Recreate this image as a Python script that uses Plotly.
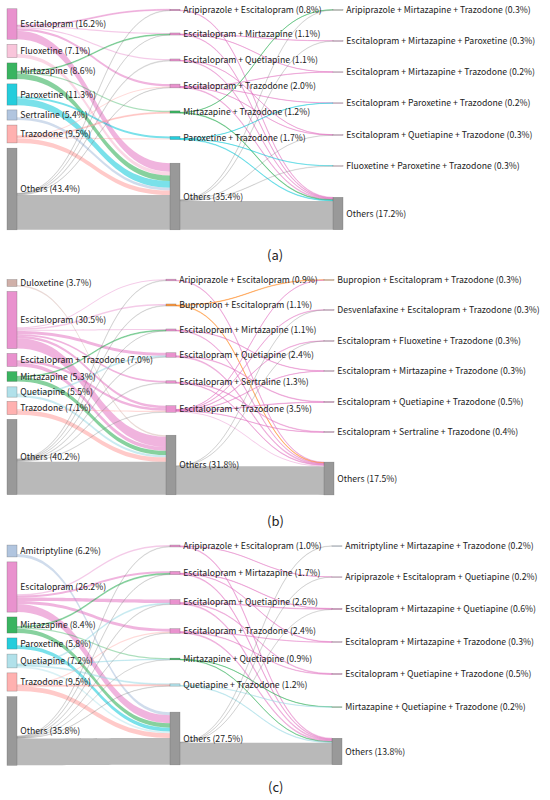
import plotly.graph_objects as go

FONT = "Noto Sans CJK KR"
W, HFIG = 550, 800

# ================= DATA =================
# ---- Panel (a) ----
a_c1_names = ["Escitalopram", "Fluoxetine", "Mirtazapine", "Paroxetine", "Sertraline", "Trazodone", "Others"]
a_c1_vals = [16.2, 7.1, 8.6, 11.3, 5.4, 9.5, 43.4]
a_c2_names = ["Aripiprazole + Escitalopram", "Escitalopram + Mirtazapine", "Escitalopram + Quetiapine",
              "Escitalopram + Trazodone", "Mirtazapine + Trazodone", "Paroxetine + Trazodone", "Others"]
a_c2_vals = [0.8, 1.1, 1.1, 2.0, 1.2, 1.7, 35.4]
a_c3_names = ["Aripiprazole + Mirtazapine + Trazodone", "Escitalopram + Mirtazapine + Paroxetine",
              "Escitalopram + Mirtazapine + Trazodone", "Escitalopram + Paroxetine + Trazodone",
              "Escitalopram + Quetiapine + Trazodone", "Fluoxetine + Paroxetine + Trazodone", "Others"]
a_c3_vals = [0.3, 0.3, 0.2, 0.2, 0.3, 0.3, 17.2]
a_flow12 = [(0, 0, 0.5), (0, 1, 0.6), (0, 2, 0.7), (0, 3, 1.2), (0, 6, 4.5),
            (1, 6, 2.0),
            (2, 1, 0.4), (2, 4, 0.7), (2, 6, 3.0),
            (3, 5, 1.1), (3, 6, 3.5),
            (4, 6, 1.5),
            (5, 3, 0.6), (5, 4, 0.5), (5, 5, 0.6), (5, 6, 2.4),
            (6, 0, 0.3), (6, 1, 0.1), (6, 2, 0.4), (6, 3, 0.2), (6, 6, 18.5)]
a_flow23 = [(0, 6, 0.3),
            (1, 1, 0.1), (1, 2, 0.1), (1, 6, 0.3),
            (2, 4, 0.1), (2, 6, 0.3),
            (3, 2, 0.1), (3, 3, 0.1), (3, 4, 0.1), (3, 6, 0.4),
            (4, 0, 0.1), (4, 6, 0.3),
            (5, 3, 0.1), (5, 5, 0.1), (5, 6, 0.3),
            (6, 0, 0.2), (6, 1, 0.2), (6, 4, 0.1), (6, 5, 0.2), (6, 6, 15.3)]

# ---- Panel (b) ----
b_c1_names = ["Duloxetine", "Escitalopram", "Escitalopram + Trazodone", "Mirtazapine", "Quetiapine", "Trazodone", "Others"]
b_c1_vals = [3.7, 30.5, 7.0, 5.3, 5.5, 7.1, 40.2]
b_c2_names = ["Aripiprazole + Escitalopram", "Bupropion + Escitalopram", "Escitalopram + Mirtazapine",
              "Escitalopram + Quetiapine", "Escitalopram + Sertraline", "Escitalopram + Trazodone", "Others"]
b_c2_vals = [0.9, 1.1, 1.1, 2.4, 1.3, 3.5, 31.8]
b_c3_names = ["Bupropion + Escitalopram + Trazodone", "Desvenlafaxine + Escitalopram + Trazodone",
              "Escitalopram + Fluoxetine + Trazodone", "Escitalopram + Mirtazapine + Trazodone",
              "Escitalopram + Quetiapine + Trazodone", "Escitalopram + Sertraline + Trazodone", "Others"]
b_c3_vals = [0.3, 0.3, 0.3, 0.3, 0.5, 0.4, 17.5]
b_flow12 = [(0, 6, 0.8),
            (1, 0, 0.6), (1, 1, 0.8), (1, 2, 0.6), (1, 3, 1.6), (1, 4, 1.0), (1, 5, 1.3), (1, 6, 5.5),
            (2, 5, 1.4), (2, 6, 2.0),
            (3, 2, 0.4), (3, 6, 2.3),
            (4, 3, 0.5), (4, 6, 1.2),
            (5, 5, 0.6), (5, 6, 2.4),
            (6, 0, 0.3), (6, 1, 0.3), (6, 2, 0.1), (6, 3, 0.3), (6, 4, 0.3), (6, 5, 0.2), (6, 6, 17.6)]
b_flow23 = [(0, 6, 0.3),
            (1, 0, 0.2), (1, 6, 0.3),
            (2, 3, 0.2), (2, 6, 0.3),
            (3, 4, 0.3), (3, 6, 0.5),
            (4, 5, 0.3), (4, 6, 0.3),
            (5, 0, 0.1), (5, 1, 0.2), (5, 2, 0.2), (5, 3, 0.1), (5, 4, 0.2), (5, 5, 0.1), (5, 6, 0.6),
            (6, 1, 0.1), (6, 2, 0.1), (6, 6, 15.2)]

# ---- Panel (c) ----
c_c1_names = ["Amitriptyline", "Escitalopram", "Mirtazapine", "Paroxetine", "Quetiapine", "Trazodone", "Others"]
c_c1_vals = [6.2, 26.2, 8.4, 5.8, 7.2, 9.5, 35.8]
c_c2_names = ["Aripiprazole + Escitalopram", "Escitalopram + Mirtazapine", "Escitalopram + Quetiapine",
              "Escitalopram + Trazodone", "Mirtazapine + Quetiapine", "Quetiapine + Trazodone", "Others"]
c_c2_vals = [1.0, 1.7, 2.6, 2.4, 0.9, 1.2, 27.5]
c_c3_names = ["Amitriptyline + Mirtazapine + Trazodone", "Aripiprazole + Escitalopram + Quetiapine",
              "Escitalopram + Mirtazapine + Quetiapine", "Escitalopram + Mirtazapine + Trazodone",
              "Escitalopram + Quetiapine + Trazodone", "Mirtazapine + Quetiapine + Trazodone", "Others"]
c_c3_vals = [0.2, 0.2, 0.6, 0.3, 0.5, 0.2, 13.8]
c_flow12 = [(0, 6, 1.6),
            (1, 0, 0.7), (1, 1, 1.0), (1, 2, 1.8), (1, 3, 1.6), (1, 6, 4.2),
            (2, 1, 0.5), (2, 4, 0.6), (2, 6, 2.3),
            (3, 6, 2.0),
            (4, 2, 0.5), (4, 4, 0.2), (4, 5, 0.5), (4, 6, 0.9),
            (5, 3, 0.6), (5, 5, 0.5), (5, 6, 2.5),
            (6, 0, 0.3), (6, 1, 0.2), (6, 2, 0.3), (6, 3, 0.2), (6, 4, 0.1), (6, 5, 0.2), (6, 6, 14.0)]
c_flow23 = [(0, 1, 0.1), (0, 6, 0.4),
            (1, 2, 0.2), (1, 3, 0.2), (1, 6, 0.4),
            (2, 2, 0.3), (2, 4, 0.3), (2, 6, 0.5),
            (3, 3, 0.1), (3, 4, 0.2), (3, 6, 0.5),
            (4, 5, 0.1), (4, 6, 0.2),
            (5, 5, 0.1), (5, 6, 0.3),
            (6, 0, 0.2), (6, 1, 0.1), (6, 2, 0.1), (6, 6, 11.5)]

# ================= STYLE / LAYOUT =================
PINK, LPINK, GREEN, CYAN = "#e377c2", "#f7b6d2", "#24ac4f", "#0cc8d8"
LBLUE, LRED, GRAY, LBROWN = "#a9bfdc", "#ff9e9c", "#7f7f7f", "#c49c94"
LCYAN, ORANGE = "#9edae5", "#ff7f0e"
NODE_ALPHA = {GREEN: 0.9, CYAN: 0.9, LBLUE: 0.9}

a_cols = ([PINK, LPINK, GREEN, CYAN, LBLUE, LRED, GRAY],
          [PINK, PINK, PINK, PINK, GREEN, CYAN, GRAY],
          ["#98a08a", PINK, PINK, PINK, PINK, LPINK, GRAY])
b_cols = ([LBROWN, PINK, PINK, GREEN, LCYAN, LRED, GRAY],
          [PINK, ORANGE, PINK, PINK, PINK, PINK, GRAY],
          [ORANGE, PINK, PINK, PINK, PINK, PINK, GRAY])
c_cols = ([LBLUE, PINK, GREEN, CYAN, LCYAN, LRED, GRAY],
          [PINK, PINK, PINK, PINK, GREEN, LCYAN, GRAY],
          [LBLUE, PINK, PINK, PINK, PINK, GREEN, GRAY])

# panel geometry in pixels: top, bottom, column x-centres, node y-centres
a_geo = dict(T=9, B=230, xs=[12, 175, 338],
             ys=[[24, 51, 71, 94.5, 115, 134, 189],
                 [10, 34, 60, 86, 112, 138, 196.5],
                 [10, 41, 72, 103, 135, 166, 213.5]])
b_geo = dict(T=279, B=495, xs=[12, 171, 329],
             ys=[[283, 320, 360, 376.5, 392, 408, 457],
                 [280, 305, 330, 355, 382, 409, 465],
                 [280, 310, 341, 371, 402, 432, 478.5]])
c_geo = dict(T=545, B=765, xs=[12, 175, 337],
             ys=[[551, 587, 625, 643.5, 661, 682, 731],
                 [546, 573, 602, 631, 659, 685, 738.5],
                 [546, 577, 609, 642, 674, 707, 751.5]])


def rgba(h, a):
    h = h.lstrip("#")
    r, g, b = int(h[0:2], 16), int(h[2:4], 16), int(h[4:6], 16)
    return f"rgba({r},{g},{b},{a})"


CLEAR = "rgba(0,0,0,0)"
EDGE = "rgba(90,90,90,0.55)"


def link_alpha(color, v, base):
    if v >= 1.0:
        return base
    return 0.18 if color == GRAY else 0.38


def make_sankey(names, vals, f12, f23, cols, geo):
    (c1n, c2n, c3n), (c1v, c2v, c3v) = names, vals
    n1, n2, n3 = len(c1n), len(c2n), len(c3n)
    D, E = n1 + n2 + n3, n1 + n2 + n3 + 1
    labels = [f"{n} ({v:.1f}%)" for n, v in zip(c1n + c2n + c3n, c1v + c2v + c3v)] + ["", ""]
    ncol = [rgba(c, NODE_ALPHA.get(c, 0.8)) for c in cols[0] + cols[1] + cols[2]] + [CLEAR, CLEAR]
    src, tgt, val, lcol = [], [], [], []
    # stage 1
    for i, j, v in f12:
        c = cols[0][i]
        src.append(i); tgt.append(n1 + j); val.append(v); lcol.append(rgba(c, link_alpha(c, v, 0.55)))
    for i in range(n1):
        rest = c1v[i] - sum(v for s, _, v in f12 if s == i)
        if rest > 1e-6:
            src.append(i); tgt.append(D); val.append(rest); lcol.append(CLEAR)
    # stage 2
    for i, j, v in f23:
        c = cols[1][i]
        src.append(n1 + i); tgt.append(n1 + n2 + j); val.append(v); lcol.append(rgba(c, link_alpha(c, v, 0.55)))
    for i in range(n2):
        rest = c2v[i] - sum(v for s, _, v in f23 if s == i)
        if rest > 1e-6:
            src.append(n1 + i); tgt.append(D); val.append(rest); lcol.append(CLEAR)
    # keep column 3 from being the last layer
    for k in range(n3):
        src.append(n1 + n2 + k); tgt.append(E); val.append(1e-4); lcol.append(CLEAR)

    T, B = geo["T"], geo["B"]
    H = B - T
    xs = ([geo["xs"][0] / W] * n1 + [geo["xs"][1] / W] * n2
          + [geo["xs"][2] / W] * n3 + [1.6, 1.6])
    ys = [(y - T) / H for col in geo["ys"] for y in col] + [0.001, 0.5]
    return go.Sankey(
        arrangement="fixed",
        domain=dict(x=[0, 1], y=[1 - B / HFIG, 1 - T / HFIG]),
        hoverinfo="none",
        textfont=dict(family=FONT, size=8.7, color="#222222", shadow="none"),
        node=dict(label=labels, color=ncol, x=xs, y=ys, pad=5, thickness=10,
                  line=dict(color=EDGE, width=0.5)),
        link=dict(source=src, target=tgt, value=val, color=lcol, line=dict(width=0)),
    )


fig = go.Figure()
fig.add_trace(make_sankey((a_c1_names, a_c2_names, a_c3_names), (a_c1_vals, a_c2_vals, a_c3_vals),
                          a_flow12, a_flow23, a_cols, a_geo))
fig.add_trace(make_sankey((b_c1_names, b_c2_names, b_c3_names), (b_c1_vals, b_c2_vals, b_c3_vals),
                          b_flow12, b_flow23, b_cols, b_geo))
fig.add_trace(make_sankey((c_c1_names, c_c2_names, c_c3_names), (c_c1_vals, c_c2_vals, c_c3_vals),
                          c_flow12, c_flow23, c_cols, c_geo))

panel_tags = ["(a)", "(b)", "(c)"]
tag_y = [255, 520, 786]
for t, yy in zip(panel_tags, tag_y):
    fig.add_annotation(text=t, x=275 / W, y=1 - yy / HFIG, xref="paper", yref="paper",
                       xanchor="center", yanchor="middle",
                       showarrow=False, font=dict(family=FONT, size=13, color="#222222"))

fig.update_layout(width=W, height=HFIG, margin=dict(l=0, r=0, t=0, b=0),
                  paper_bgcolor="white", plot_bgcolor="white")
fig.write_html("out.html", config={"displayModeBar": False},
               post_script="document.body.style.margin='0px';")
